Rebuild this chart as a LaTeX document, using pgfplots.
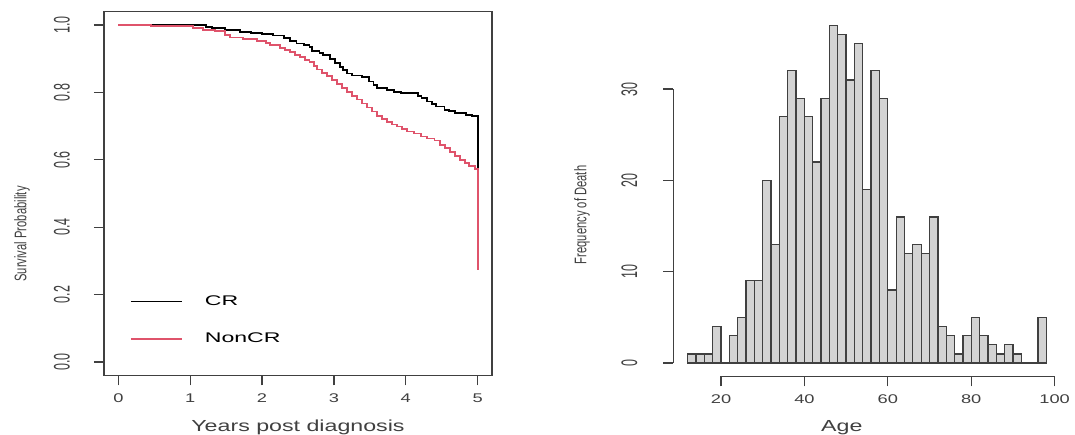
\documentclass[border=0pt]{standalone}
\usepackage{fontspec}
\setmainfont{Liberation Sans}
\usepackage{pgfplots}
\usepackage{pgfplotstable}
\pgfplotsset{compat=1.18}
\definecolor{rred}{HTML}{DF536B}
\definecolor{barfill}{HTML}{D3D3D3}
\definecolor{axgray}{HTML}{404040}

% horizontal text is stretched sideways, rotated text across its reading direction
\newcommand{\hx}[1]{\scalebox{1.45}[1]{#1}}
\newcommand{\vy}[1]{\scalebox{1}[1.8]{#1}}

% Kaplan-Meier estimates
\pgfplotstableread{
t s
0.00 1.000
1.22 0.995
1.30 0.990
1.48 0.985
1.69 0.979
1.85 0.976
2.00 0.973
2.15 0.969
2.30 0.962
2.39 0.953
2.48 0.945
2.58 0.940
2.66 0.935
2.69 0.922
2.80 0.918
2.85 0.912
2.95 0.900
3.02 0.888
3.08 0.876
3.13 0.866
3.18 0.856
3.25 0.850
3.39 0.845
3.49 0.832
3.55 0.822
3.60 0.812
3.74 0.808
3.84 0.802
3.93 0.798
4.17 0.790
4.22 0.783
4.30 0.773
4.36 0.766
4.42 0.758
4.54 0.748
4.60 0.744
4.68 0.740
4.84 0.734
4.92 0.731
5.00 0.566
}\crdata

\pgfplotstableread{
t s
0.00 1.000
0.45 0.998
0.80 0.996
1.04 0.992
1.18 0.986
1.35 0.982
1.48 0.970
1.55 0.963
1.73 0.958
1.93 0.952
2.05 0.946
2.11 0.941
2.25 0.932
2.32 0.926
2.39 0.920
2.46 0.912
2.53 0.905
2.60 0.896
2.66 0.889
2.72 0.878
2.76 0.868
2.83 0.858
2.90 0.848
2.97 0.836
3.04 0.824
3.11 0.812
3.18 0.800
3.25 0.789
3.32 0.779
3.39 0.767
3.46 0.755
3.53 0.743
3.60 0.731
3.67 0.720
3.74 0.711
3.81 0.705
3.88 0.699
3.95 0.692
4.02 0.684
4.12 0.678
4.21 0.669
4.30 0.663
4.40 0.657
4.48 0.645
4.55 0.634
4.62 0.622
4.68 0.612
4.75 0.600
4.82 0.590
4.88 0.582
4.96 0.572
5.00 0.274
}\noncrdata

% histogram: left bin edge, count (last row closes the final bin)
\pgfplotstableread{
age n
12 1
14 1
16 1
18 4
20 0
22 3
24 5
26 9
28 9
30 20
32 13
34 27
36 32
38 29
40 27
42 22
44 29
46 37
48 36
50 31
52 35
54 19
56 32
58 29
60 8
62 16
64 12
66 13
68 12
70 16
72 4
74 3
76 1
78 3
80 5
82 3
84 2
86 1
88 2
90 1
92 0
94 0
96 5
98 0
}\agedata

\begin{document}
\begin{tikzpicture}
\useasboundingbox (0,0) rectangle (1075pt,435pt);

\begin{axis}[
    at={(104pt,59.5pt)}, anchor=south west,
    scale only axis, width=388pt, height=364pt,
    xmin=-0.2, xmax=5.2, ymin=-0.04, ymax=1.04,
    axis line style={line width=1.3pt, axgray},
    tick style={line width=1.3pt, axgray},
    tick align=outside, tick pos=left,
    major tick length=10pt,
    xtick={0,1,2,3,4,5},
    xticklabels={\hx{0},\hx{1},\hx{2},\hx{3},\hx{4},\hx{5}},
    ytick={0,0.2,0.4,0.6,0.8,1},
    yticklabels={\vy{0.0},\vy{0.2},\vy{0.4},\vy{0.6},\vy{0.8},\vy{1.0}},
    xticklabel style={font=\fontsize{12.6}{13}\selectfont, text=axgray, yshift=-5pt},
    yticklabel style={font=\fontsize{12.5}{13}\selectfont, text=axgray, rotate=90, anchor=center, yshift=32pt},
    xlabel={\hx{\fontsize{16}{17}\selectfont Years post diagnosis}},
    xlabel style={at={(axis description cs:0.5,-0.1415)}, anchor=center, text=axgray},
    ylabel={\scalebox{1}[1.5]{\fontsize{11.2}{12}\selectfont Survival Probability}},
    ylabel style={at={(axis description cs:-0.211,0.389)}, anchor=center, rotate=0, text=axgray},
    legend style={draw=none, fill=none, at={(axis cs:0.16,0.203)}, anchor=north west,
        font=\fontsize{14}{15}\selectfont, row sep=22pt, inner sep=0pt},
    legend cell align=left,
    legend image post style={line width=1.8pt},
    legend image code/.code={\draw[#1] (0pt,0pt) -- (51pt,0pt); \path (71pt,0pt);},
]
\addplot[const plot, black, line width=1.8pt] table[x=t, y=s] {\crdata};
\addlegendentry{\scalebox{1.65}[1]{CR}}
\addplot[const plot, rred, line width=1.8pt] table[x=t, y=s] {\noncrdata};
\addlegendentry{\scalebox{1.65}[1]{NonCR}}
\end{axis}

\begin{axis}[
    at={(673.3pt,58.5pt)}, anchor=south west,
    scale only axis, width=387.3pt, height=364.8pt,
    xmin=8.56, xmax=101.44, ymin=-1.48, ymax=38.48,
    axis x line*=bottom, axis y line*=left,
    axis line style={draw=none},
    tick style={line width=1.3pt, axgray},
    tick align=outside,
    major tick length=10pt,
    xtick={20,40,60,80,100},
    xticklabels={\hx{20},\hx{40},\hx{60},\hx{80},\hx{100}},
    ytick={0,10,20,30},
    yticklabels={\vy{0},\vy{10},\vy{20},\vy{30}},
    xticklabel style={font=\fontsize{12.6}{13}\selectfont, text=axgray, yshift=-5pt},
    yticklabel style={font=\fontsize{12.5}{13}\selectfont, text=axgray, rotate=90, anchor=center, yshift=34pt},
    xlabel={\hx{\fontsize{16}{17}\selectfont Age}},
    xlabel style={at={(axis description cs:0.435,-0.14)}, anchor=center, text=axgray},
    ylabel={\scalebox{1}[1.5]{\fontsize{11.2}{12}\selectfont Frequency of Death}},
    ylabel style={at={(axis description cs:-0.236,0.443)}, anchor=center, rotate=0, text=axgray},
    clip=false,
]
\addplot[ybar interval, fill=barfill, draw=axgray, line width=1.3pt] table[x=age, y=n] {\agedata};
\draw[line width=1.3pt, axgray] (axis cs:20,-1.48) -- (axis cs:100,-1.48);
\draw[line width=1.3pt, axgray] (axis cs:8.56,0) -- (axis cs:8.56,30);
\end{axis}
\end{tikzpicture}
\end{document}
